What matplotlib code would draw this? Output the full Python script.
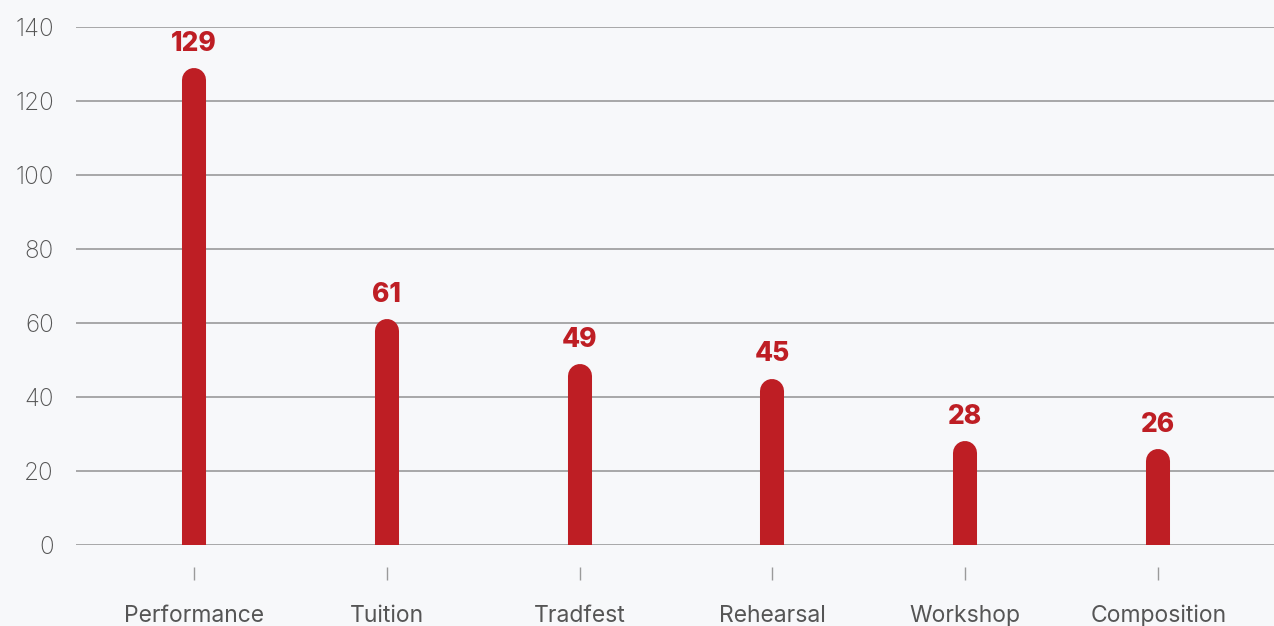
import matplotlib.pyplot as plt

categories = ["Performance", "Tuition", "Tradfest", "Rehearsal", "Workshop", "Composition"]
counts = [129, 61, 49, 45, 28, 26]
yticks = [0, 20, 40, 60, 80, 100, 120, 140]

red = "#BE1E24"
bg = "#F7F8FA"
grey = "#9A9A9A"
textgrey = "#555555"

plt.rcParams['font.family'] = ['Inter', 'DejaVu Sans']

fig = plt.figure(figsize=(12.74, 6.26), dpi=100, facecolor=bg)
ax = fig.add_axes([76 / 1274, 1 - 545 / 626, 1 - 76 / 1274, 518 / 626])
ax.set_facecolor(bg)

x = list(range(len(categories)))
ax.set_xlim(-0.61, 5.6)
ax.set_ylim(0, 140)

# half bar width in data units so the round cap ends at the value
r = 12 / (518 / 140)
for xi, v in zip(x, counts):
    ax.plot([xi, xi], [0, v - r], color=red, lw=17.3, solid_capstyle='round', zorder=3)
    ax.annotate(str(v), (xi, v), xytext=(0, 8), textcoords='offset points',
                ha='center', va='bottom', color=red, fontsize=19, fontweight='heavy')

ax.set_yticks(yticks)
ax.yaxis.grid(True, color=grey, lw=1.2)
ax.set_axisbelow(True)
ax.tick_params(axis='y', length=0, pad=16, labelsize=17.5, labelcolor=textgrey)

ax.set_xticks(x)
ax.set_xticklabels(categories)
ax.tick_params(axis='x', length=9, width=1, color=grey, pad=18, labelsize=16.5, labelcolor=textgrey)
for lab in ax.get_xticklabels() + ax.get_yticklabels():
    lab.set_fontweight('light')

for s in ['top', 'right', 'left']:
    ax.spines[s].set_visible(False)
ax.spines['bottom'].set_position(('outward', 16))
ax.spines['bottom'].set_color('none')

fig.savefig("out.png", dpi=100, facecolor=bg)
